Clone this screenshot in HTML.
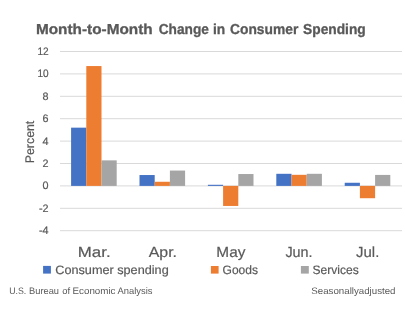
<!DOCTYPE html>
<html><head><meta charset="utf-8"><style>
html,body{margin:0;padding:0;background:#fff;width:405px;height:315px;overflow:hidden}
svg{display:block;filter:blur(0.3px)}
text{font-family:"Liberation Sans",sans-serif;fill:#595959;text-rendering:geometricPrecision}
</style></head><body>
<svg width="405" height="315" viewBox="0 0 405 315">
<rect width="405" height="315" fill="#fff"/>
<rect x="60" y="51.00" width="342" height="1" fill="#D9D9D9"/>
<rect x="60" y="73.40" width="342" height="1" fill="#D9D9D9"/>
<rect x="60" y="95.80" width="342" height="1" fill="#D9D9D9"/>
<rect x="60" y="118.20" width="342" height="1" fill="#D9D9D9"/>
<rect x="60" y="140.60" width="342" height="1" fill="#D9D9D9"/>
<rect x="60" y="163.00" width="342" height="1" fill="#D9D9D9"/>
<rect x="60" y="185.40" width="342" height="1" fill="#D9D9D9"/>
<rect x="60" y="207.80" width="342" height="1" fill="#D9D9D9"/>
<rect x="60" y="230.20" width="342" height="1" fill="#D9D9D9"/>
<rect x="71.10" y="127.66" width="15.20" height="58.24" fill="#4472C4"/>
<rect x="86.30" y="66.06" width="15.20" height="119.84" fill="#ED7D31"/>
<rect x="101.50" y="160.36" width="15.20" height="25.54" fill="#A5A5A5"/>
<rect x="139.50" y="175.04" width="15.20" height="10.86" fill="#4472C4"/>
<rect x="154.70" y="181.76" width="15.20" height="4.14" fill="#ED7D31"/>
<rect x="169.90" y="170.56" width="15.20" height="15.34" fill="#A5A5A5"/>
<rect x="207.90" y="184.78" width="15.20" height="1.12" fill="#4472C4"/>
<rect x="223.10" y="185.90" width="15.20" height="20.05" fill="#ED7D31"/>
<rect x="238.30" y="174.03" width="15.20" height="11.87" fill="#A5A5A5"/>
<rect x="276.30" y="173.80" width="15.20" height="12.10" fill="#4472C4"/>
<rect x="291.50" y="174.81" width="15.20" height="11.09" fill="#ED7D31"/>
<rect x="306.70" y="173.80" width="15.20" height="12.10" fill="#A5A5A5"/>
<rect x="344.70" y="182.76" width="15.20" height="3.14" fill="#4472C4"/>
<rect x="359.90" y="185.90" width="15.20" height="12.32" fill="#ED7D31"/>
<rect x="375.10" y="174.92" width="15.20" height="10.98" fill="#A5A5A5"/>
<text x="48.6" y="54.90" textLength="11.2" lengthAdjust="spacingAndGlyphs" text-anchor="end" font-size="10.8px" stroke="#595959" stroke-width="0.2">12</text>
<text x="48.6" y="77.30" textLength="11.2" lengthAdjust="spacingAndGlyphs" text-anchor="end" font-size="10.8px" stroke="#595959" stroke-width="0.2">10</text>
<text x="48.6" y="99.70" text-anchor="end" font-size="10.8px" stroke="#595959" stroke-width="0.2">8</text>
<text x="48.6" y="122.10" text-anchor="end" font-size="10.8px" stroke="#595959" stroke-width="0.2">6</text>
<text x="48.6" y="144.50" text-anchor="end" font-size="10.8px" stroke="#595959" stroke-width="0.2">4</text>
<text x="48.6" y="166.90" text-anchor="end" font-size="10.8px" stroke="#595959" stroke-width="0.2">2</text>
<text x="48.6" y="189.30" text-anchor="end" font-size="10.8px" stroke="#595959" stroke-width="0.2">0</text>
<text x="48.6" y="211.70" text-anchor="end" font-size="10.8px" stroke="#595959" stroke-width="0.2">-2</text>
<text x="48.6" y="234.10" text-anchor="end" font-size="10.8px" stroke="#595959" stroke-width="0.2">-4</text>
<text x="35.99" y="33.60" font-size="14.4px" textLength="116.61" lengthAdjust="spacingAndGlyphs" font-weight="bold" stroke="#595959" stroke-width="0.3">Month-to-Month</text>
<text x="158.63" y="33.60" font-size="14.4px" textLength="50.28" lengthAdjust="spacingAndGlyphs" font-weight="bold" stroke="#595959" stroke-width="0.3">Change</text>
<text x="213.03" y="33.60" font-size="14.4px" textLength="12.25" lengthAdjust="spacingAndGlyphs" font-weight="bold" stroke="#595959" stroke-width="0.3">in</text>
<text x="230.00" y="33.60" font-size="14.4px" textLength="68.33" lengthAdjust="spacingAndGlyphs" font-weight="bold" stroke="#595959" stroke-width="0.3">Consumer</text>
<text x="303.06" y="33.60" font-size="14.4px" textLength="62.72" lengthAdjust="spacingAndGlyphs" font-weight="bold" stroke="#595959" stroke-width="0.3">Spending</text>
<text transform="translate(34.00,163.25) rotate(-90)" font-size="12.5px" textLength="42.55" lengthAdjust="spacingAndGlyphs" stroke="#595959" stroke-width="0.2">Percent</text>
<text x="77.84" y="257.45" font-size="14.6px" textLength="32.76" lengthAdjust="spacingAndGlyphs" stroke="#595959" stroke-width="0.2">Mar.</text>
<text x="148.70" y="257.45" font-size="14.6px" textLength="28.30" lengthAdjust="spacingAndGlyphs" stroke="#595959" stroke-width="0.2">Apr.</text>
<text x="216.35" y="257.45" font-size="14.6px" textLength="29.03" lengthAdjust="spacingAndGlyphs" stroke="#595959" stroke-width="0.2">May</text>
<text x="285.43" y="257.45" font-size="14.6px" textLength="27.17" lengthAdjust="spacingAndGlyphs" stroke="#595959" stroke-width="0.2">Jun.</text>
<text x="356.14" y="257.45" font-size="14.6px" textLength="23.20" lengthAdjust="spacingAndGlyphs" stroke="#595959" stroke-width="0.2">Jul.</text>
<text x="55.26" y="273.55" font-size="12.2px" textLength="113.44" lengthAdjust="spacingAndGlyphs" stroke="#595959" stroke-width="0.2">Consumer spending</text>
<text x="222.55" y="273.55" font-size="12.2px" textLength="35.46" lengthAdjust="spacingAndGlyphs" stroke="#595959" stroke-width="0.2">Goods</text>
<text x="312.51" y="273.55" font-size="12.2px" textLength="46.17" lengthAdjust="spacingAndGlyphs" stroke="#595959" stroke-width="0.2">Services</text>
<text x="311.33" y="293.90" font-size="9.4px" textLength="84.20" lengthAdjust="spacingAndGlyphs" fill="#909090">Seasonallyadjusted</text>
<text x="9.23" y="293.90" font-size="9.4px" textLength="17.04" lengthAdjust="spacingAndGlyphs" fill="#909090">U.S.</text>
<text x="29.11" y="293.90" font-size="9.4px" textLength="29.92" lengthAdjust="spacingAndGlyphs" fill="#909090">Bureau</text>
<text x="62.21" y="293.90" font-size="9.4px" textLength="7.85" lengthAdjust="spacingAndGlyphs" fill="#909090">of</text>
<text x="72.52" y="293.90" font-size="9.4px" textLength="43.01" lengthAdjust="spacingAndGlyphs" fill="#909090">Economic</text>
<text x="117.49" y="293.90" font-size="9.4px" textLength="34.93" lengthAdjust="spacingAndGlyphs" fill="#909090">Analysis</text>
<rect x="43.1" y="265.9" width="7.8" height="7.7" fill="#4472C4"/>
<rect x="210.9" y="266" width="7.7" height="7.6" fill="#ED7D31"/>
<rect x="300.9" y="266" width="7.9" height="7.6" fill="#A5A5A5"/>
</svg>
</body></html>
